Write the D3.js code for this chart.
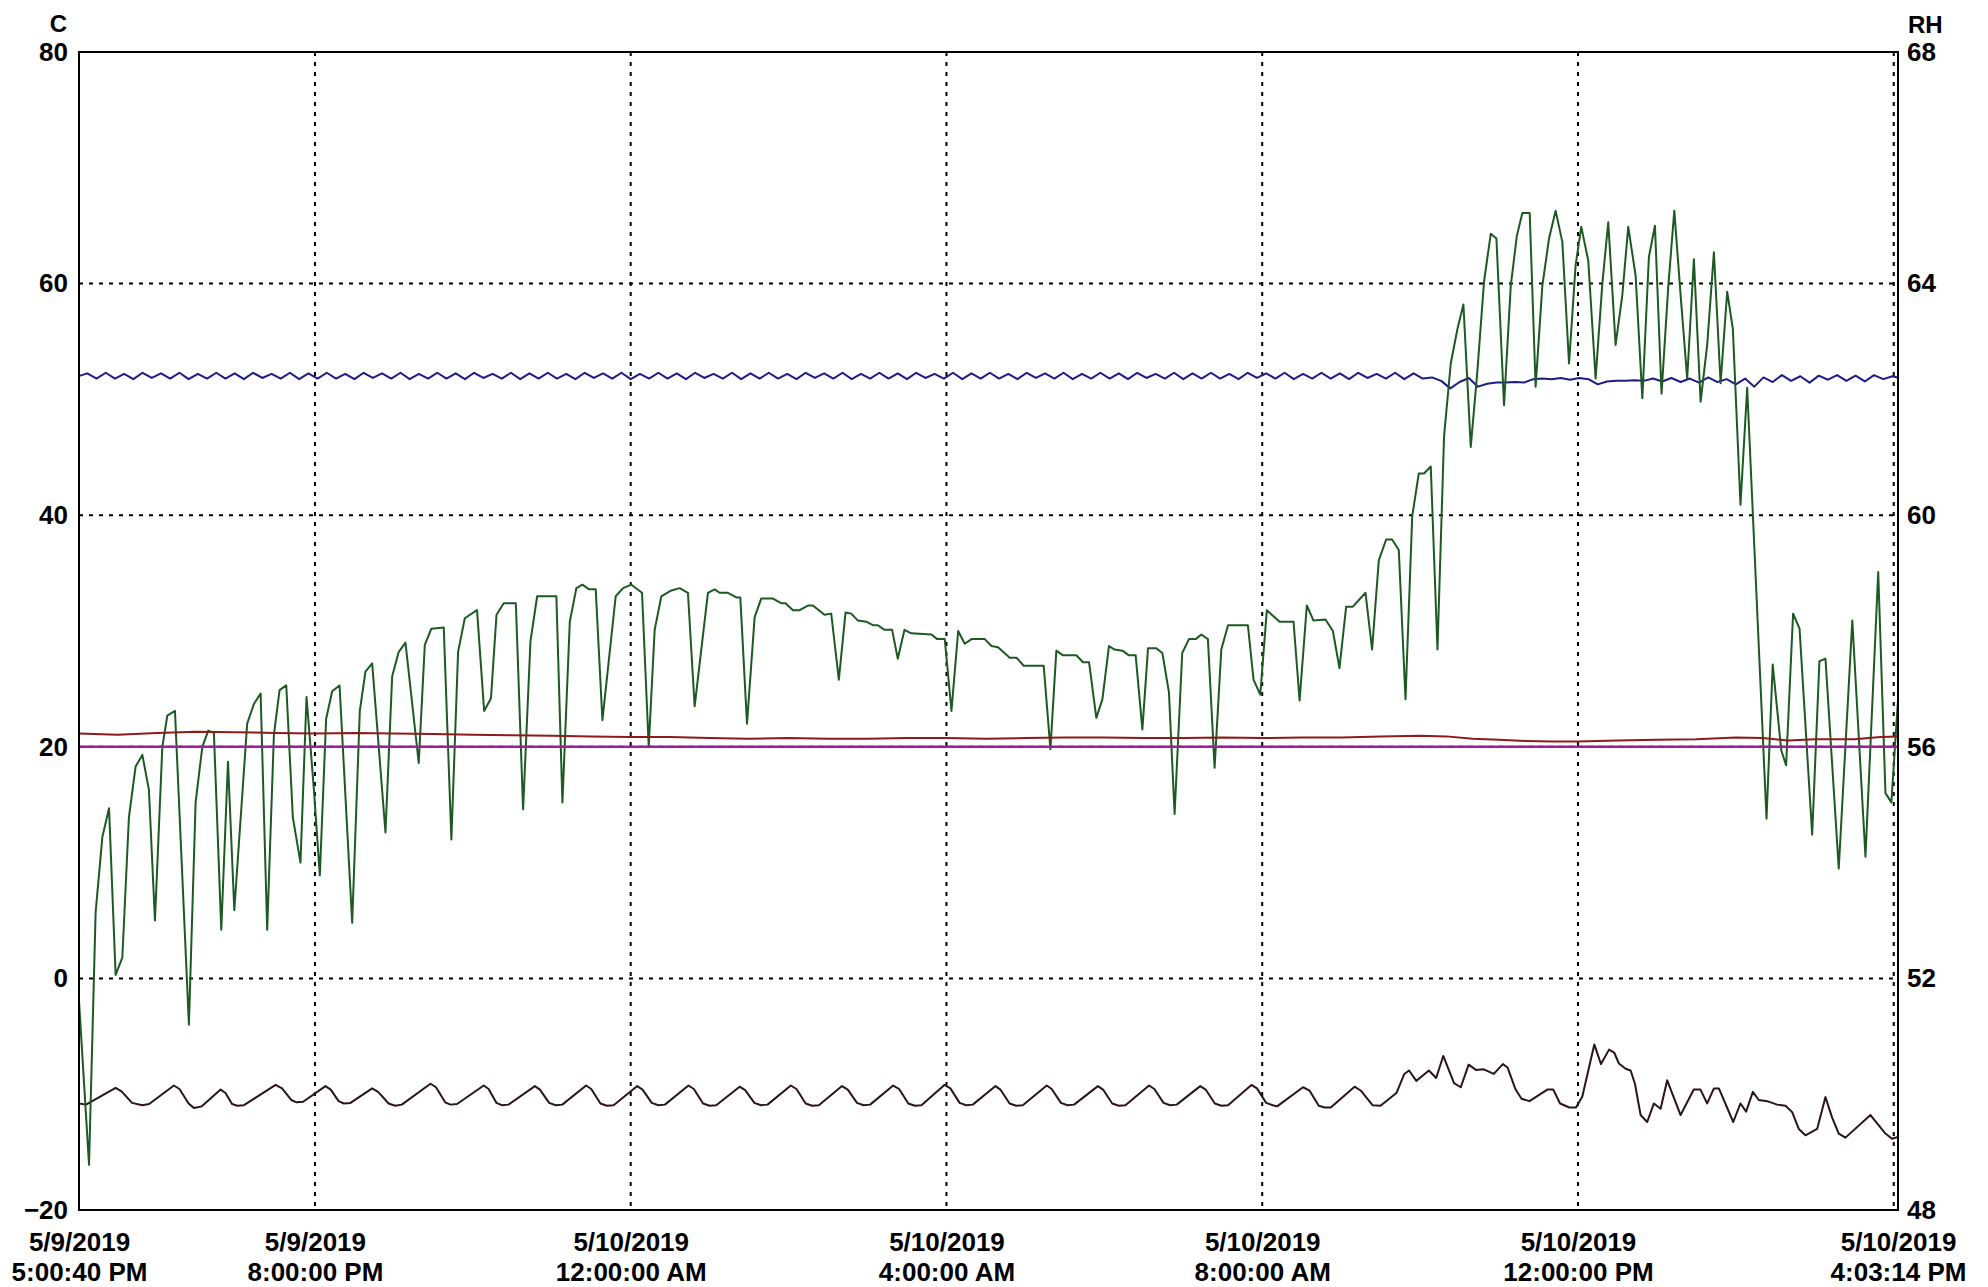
<!DOCTYPE html>
<html><head><meta charset="utf-8">
<script src="https://cdn.jsdelivr.net/npm/d3@7"></script>
<style>html,body{margin:0;background:#fff}svg{display:block}</style>
</head><body><svg id="chart" width="1988" height="1287"></svg>
<script>
// ---------- DATA ----------
const BASE_TIME = new Date(2019, 4, 9, 17, 0, 0);   // minutes below are counted from here
const START_TIME = new Date(2019, 4, 9, 17, 0, 40);
const END_TIME = new Date(2019, 4, 10, 16, 3, 14);

const leftTicks = [80, 60, 40, 20, 0, -20];
const rightTicks = [68, 64, 60, 56, 52, 48];
const hGridValues = [60, 40, 20, 0];
const xLabelTimes = [START_TIME, new Date(2019,4,9,20,0,0), new Date(2019,4,10,0,0,0),
  new Date(2019,4,10,4,0,0), new Date(2019,4,10,8,0,0), new Date(2019,4,10,12,0,0), END_TIME];
const vGridTimes = [new Date(2019,4,9,20,0,0), new Date(2019,4,10,0,0,0), new Date(2019,4,10,4,0,0),
  new Date(2019,4,10,8,0,0), new Date(2019,4,10,12,0,0), new Date(2019,4,10,16,0,0)];

// green temperature trace, [minute, C]
const greenTemp = [
[0.7,-2],[8.3,-16.1],[13.3,5.7],[18.4,12.2],[23.5,14.7],[28.5,0.3],[33.6,1.8],[38.6,13.9],[43.7,18.3],[48.8,19.3],
[53.8,16.3],[58.4,5.0],[64,20],[67.8,22.7],[73.6,23.1],[84.2,-4.0],[89.3,15.2],[94.4,20],[98.9,21.4],[103.2,21.2],
[108.8,4.2],[113.9,18.7],[118.7,5.9],[128.5,22.0],[133.6,23.7],[138.7,24.6],[143.7,4.2],[148.8,21.0],[153.1,24.9],[158.2,25.3],
[163.2,13.9],[169,10.0],[173.6,24.3],[179.2,16.3],[183.7,8.9],[188.5,22.4],[193.1,24.8],[198.7,25.3],[208.3,4.8],[214.1,23.1],
[218.4,26.5],[223.5,27.2],[233.6,12.6],[238.7,26.1],[243.7,28.2],[248.8,29.0],[258.9,18.6],[263.5,28.8],[268.5,30.2],[277.9,30.3],
[283.7,12.0],[288.8,28.2],[293.9,31.1],[303.2,31.8],[308.6,23.1],[313.8,24.2],[318.0,31.4],[323.5,32.4],[332.7,32.4],[338.2,14.6],
[343.8,29.1],[348.9,33.0],[363.5,33.0],[368.1,15.2],[373.7,30.8],[378.7,33.7],[383.3,34.0],[388.4,33.6],[393.4,33.6],[398.5,22.3],
[408.6,33.0],[414.2,33.7],[420.5,34.0],[428.6,33.3],[433.7,20.0],[438.2,30.1],[443.3,33.0],[450.9,33.5],[457.2,33.7],[463.5,33.3],
[468.6,23.5],[478.7,33.3],[483.8,33.6],[487.6,33.3],[493.9,33.3],[500.3,32.9],[503.3,32.9],[508.4,22.0],[514.2,31.2],[519.2,32.8],
[528.1,32.8],[534.4,32.4],[537.7,32.4],[543.3,31.8],[548.4,31.8],[554.7,32.2],[558.5,32.2],[567.3,31.4],[572.4,31.5],[578.2,25.8],
[583.3,31.6],[587.6,31.5],[592.7,30.9],[599.0,30.8],[604.1,30.5],[607.8,30.5],[612.9,30.1],[618.7,30.1],[623.0,27.6],[628.1,30.1],
[633.2,29.8],[648.6,29.7],[652.9,29.3],[658.7,29.3],[663.8,23.1],[668.9,30.0],[673.9,28.9],[679.0,29.3],[689.1,29.3],[694.2,28.7],
[699.2,28.6],[708.1,27.7],[713.2,27.7],[718.7,27.0],[733.9,27.0],[739.0,19.8],[743.5,28.3],[748.6,27.9],[758.7,27.9],[763.8,27.3],
[768.4,27.3],[773.9,22.5],[778.5,24.1],[783.5,28.7],[787.8,28.4],[793.7,28.3],[798.7,27.9],[803.8,27.9],[808.9,21.5],[813.2,28.5],
[819.5,28.5],[824.1,28.1],[829.1,24.7],[833.4,14.2],[839.2,28.1],[844.3,29.3],[849.4,29.3],[853.7,29.7],[858.7,29.3],[863.8,18.2],
[868.9,28.4],[874.0,30.5],[889.1,30.5],[893.4,25.8],[898.5,24.5],[903.5,31.8],[913.2,30.8],[923.8,30.8],[928.4,24.0],[933.9,32.2],
[939.0,30.9],[948.1,31.0],[953.7,30.0],[958.7,26.8],[963.8,32.1],[968.9,32.1],[978.5,33.3],[983.5,28.4],[988.6,36.1],[994.2,37.9],
[998.7,37.9],[1003.8,37.0],[1008.9,24.1],[1014.0,39.9],[1019.0,43.6],[1023.0,43.6],[1028.1,44.2],[1033.2,28.4],[1038.2,46.8],[1043.3,53.1],
[1048.4,56.1],[1052.9,58.2],[1058.5,45.9],[1063.5,52.4],[1068.6,60.2],[1073.7,64.3],[1078.0,63.9],[1083.8,49.5],[1088.9,59.8],[1093.5,64.1],
[1097.7,66.1],[1103.3,66.1],[1107.8,51.1],[1112.9,59.8],[1118.0,63.9],[1123.0,66.3],[1128.1,63.6],[1133.2,53.1],[1138.2,61.6],[1142.5,64.9],
[1147.8,62.0],[1153.4,51.8],[1158.5,60.0],[1163.0,65.3],[1168.6,54.7],[1173.7,59.0],[1178.2,64.9],[1183.8,60.7],[1188.9,50.1],[1193.9,62.3],
[1198.5,65.0],[1203.5,50.5],[1208.6,59.7],[1213.2,66.3],[1218.0,59.0],[1223.0,51.8],[1228.1,62.1],[1233.2,49.8],[1238.2,54.7],[1243.3,62.7],
[1248.4,51.4],[1253.4,59.3],[1257.7,56.1],[1263.5,40.9],[1268.6,51.0],[1283.3,13.8],[1288.0,27.1],[1294.5,19.7],[1298.2,18.4],[1303.5,31.5],
[1308.4,30.2],[1318.0,12.4],[1323.5,27.4],[1328.1,27.6],[1338.2,9.5],[1348.5,30.9],[1358.5,10.5],[1368.2,35.1],[1373.7,16.0],[1378.2,15.2],
[1383.2,24.0]
];

// blue trace (C), one value every 7 minutes
const blueStepMin = 7;
const blueTemp = [
52.0,52.25,51.8,52.3,51.8,52.2,51.75,52.3,51.85,52.25,
51.8,52.3,51.75,52.2,51.8,52.3,51.8,52.25,51.75,52.3,
51.85,52.2,51.8,52.3,51.75,52.25,51.8,52.3,51.8,52.2,
51.75,52.3,51.85,52.25,51.8,52.3,51.75,52.2,51.8,52.3,
51.8,52.25,51.75,52.3,51.85,52.2,51.8,52.3,51.75,52.25,
51.8,52.3,51.8,52.2,51.75,52.3,51.85,52.25,51.8,52.3,
51.75,52.2,51.8,52.3,51.8,52.25,51.75,52.3,51.85,52.2,
51.8,52.3,51.75,52.25,51.8,52.3,51.8,52.2,51.75,52.3,
51.85,52.25,51.8,52.3,51.75,52.2,51.8,52.3,51.8,52.25,
51.75,52.3,51.85,52.2,51.8,52.3,51.75,52.25,51.8,52.3,
51.8,52.2,51.75,52.3,51.85,52.25,51.8,52.3,51.75,52.2,
51.8,52.3,51.8,52.25,51.75,52.3,51.85,52.2,51.8,52.3,
51.75,52.25,51.8,52.3,51.8,52.2,51.75,52.3,51.85,52.25,
51.8,52.3,51.75,52.2,51.8,52.3,51.8,52.25,51.75,52.3,
51.85,52.2,51.8,52.3,51.75,52.25,51.8,
51.9,51.6,50.95,51.5,51.85,51.1,51.35,51.45,51.45,51.5,
51.45,51.75,51.8,51.75,51.85,51.7,51.85,51.75,51.3,51.55,
51.6,51.6,51.65,51.6,51.8,51.55,51.85,51.5,51.8,51.45,
51.9,51.5,51.75,51.3,51.8,51.1,51.9,
51.5,52.1,51.6,52.0,51.45,52.05,51.7,52.1,51.6,52.05,51.55,52.1,51.75,52.0,51.8
];

// maroon trace (C), [minute, C]
const maroonTemp = [
[0,21.15],[30,21.05],[60,21.2],[90,21.3],[120,21.25],[150,21.2],[180,21.15],[210,21.2],[240,21.15],[270,21.1],
[300,21.05],[330,21.0],[360,20.95],[390,20.9],[420,20.85],[450,20.85],[480,20.75],[510,20.7],[540,20.75],[570,20.7],
[600,20.7],[630,20.75],[660,20.75],[690,20.7],[720,20.75],[750,20.8],[780,20.8],[810,20.75],[840,20.75],[870,20.8],
[900,20.75],[930,20.8],[960,20.8],[990,20.9],[1020,20.95],[1040,20.9],[1060,20.7],[1080,20.6],[1100,20.5],[1120,20.45],
[1140,20.45],[1170,20.55],[1200,20.6],[1230,20.65],[1260,20.8],[1280,20.75],[1300,20.55],[1320,20.65],[1350,20.65],[1370,20.85],
[1383.2,20.9]
];

// magenta set line (C)
const magentaTemp = [[0,20],[1383.2,20]];

// black RH trace (%RH), [minute, RH]
const blackRH = [
[0.7,49.84],[6,49.82],[28.5,50.11],[33,50.05],[41,49.85],[48.8,49.81],[54,49.83],[72.8,50.15],[77,50.09],[84,49.84],
[88,49.76],[94,49.79],[108.3,50.08],[112,50.02],[117,49.83],[121,49.8],[126,49.81],[150.1,50.16],[155,50.1],[162,49.9],
[166,49.86],[171,49.87],[188,50.14],[192,50.08],[198,49.88],[202,49.84],[207,49.85],[223.5,50.1],[228,50.04],[236,49.84],
[241,49.8],[246,49.82],[267.8,50.18],[272,50.12],[279,49.86],[283,49.82],[288,49.83],[308.3,50.15],[312,50.09],[318,49.85],
[322,49.81],[327,49.82],[347.2,50.14],[351,50.08],[358,49.85],[363,49.81],[368,49.82],[386.1,50.15],[390,50.09],[397,49.84],
[402,49.8],[407,49.81],[425,50.14],[429,50.08],[436,49.85],[441,49.81],[446,49.82],[463.9,50.15],[468,50.09],[475,49.84],
[480,49.8],[485,49.81],[502.8,50.13],[507,50.07],[514,49.85],[519,49.81],[524,49.82],[541.7,50.15],[546,50.09],[553,49.84],
[558,49.8],[563,49.81],[580.6,50.14],[585,50.08],[592,49.85],[597,49.81],[602,49.82],[619.5,50.15],[624,50.09],[631,49.84],
[636,49.8],[641,49.81],[658.4,50.16],[663,50.1],[670,49.85],[675,49.81],[680,49.82],[697.3,50.14],[701,50.08],[708,49.84],
[713,49.8],[718,49.81],[736.2,50.15],[740,50.09],[747,49.85],[752,49.81],[757,49.82],[775.1,50.14],[779,50.08],[786,49.84],
[791,49.8],[796,49.81],[814,50.15],[818,50.09],[825,49.85],[830,49.81],[835,49.82],[852.9,50.14],[857,50.08],[864,49.84],
[869,49.8],[874,49.81],[891.8,50.16],[896,50.1],[903,49.85],[908,49.81],[911.3,49.79],[931,50.12],[936,50.06],[943,49.8],
[947.6,49.77],[952.1,49.77],[970.2,50.13],[975,50.06],[983.8,49.81],[989.9,49.8],[1002,50.02],[1008,50.35],[1011.6,50.41],[1017.1,50.23],
[1026.7,50.41],[1032.2,50.28],[1037.6,50.66],[1045.8,50.19],[1050.9,50.12],[1056.9,50.51],[1062.4,50.42],[1068.4,50.43],[1076,50.35],[1082.9,50.52],
[1086.5,50.46],[1092.6,50.08],[1097.1,49.92],[1103.1,49.88],[1116.7,50.08],[1121.2,50.08],[1126.4,49.84],[1133.4,49.77],[1138.5,49.77],[1143.3,49.96],
[1152.4,50.86],[1157.5,50.52],[1163.6,50.77],[1167.5,50.72],[1171.1,50.53],[1176.2,50.44],[1180,50.41],[1183.3,50.18],[1187.6,49.64],[1192.6,49.52],
[1197.7,49.84],[1202.8,49.75],[1207.8,50.24],[1218,49.64],[1228,50.08],[1233.1,50.08],[1238.2,49.84],[1243.3,50.1],[1247.1,50.1],[1258,49.52],
[1263.5,49.84],[1267.8,49.7],[1272.9,50.04],[1277.4,49.9],[1283.8,49.88],[1291.4,49.82],[1297.7,49.8],[1302.8,49.69],[1307.8,49.4],[1312.9,49.29],
[1321.8,49.4],[1328.1,49.95],[1333.1,49.6],[1338.2,49.32],[1343.3,49.25],[1362.3,49.64],[1373.7,49.32],[1378.7,49.23],[1383.2,49.26]
];

// ---------- CHART ----------
const L = 79, R = 1898, T = 52, B = 1210;
const FONT = "'Liberation Sans', Arial, Helvetica, sans-serif";
const svg = d3.select("#chart");
const toDate = m => new Date(BASE_TIME.getTime() + m * 60000);

const x = d3.scaleTime().domain([START_TIME, END_TIME]).range([L, R]);
const yC = d3.scaleLinear().domain([-20, 80]).range([B, T]);
const yRH = d3.scaleLinear().domain([48, 68]).range([B, T]);

svg.append("defs").append("clipPath").attr("id", "plot")
  .append("rect").attr("x", L).attr("y", T).attr("width", R - L).attr("height", B - T);

// grid
const grid = svg.append("g").attr("stroke", "#000").attr("stroke-width", 2).attr("stroke-dasharray", "4,6");
grid.selectAll("line.h").data(hGridValues).join("line").attr("class", "h")
  .attr("x1", L).attr("x2", R).attr("y1", d => yC(d)).attr("y2", d => yC(d));
grid.selectAll("line.v").data(vGridTimes).join("line").attr("class", "v")
  .attr("x1", d => x(d)).attr("x2", d => x(d)).attr("y1", T).attr("y2", B);

// lines
const plot = svg.append("g").attr("clip-path", "url(#plot)").attr("fill", "none")
  .attr("stroke-linejoin", "round").attr("stroke-linecap", "round");
const lineC = d3.line().x(d => x(toDate(d[0]))).y(d => yC(d[1]));
const lineRH = d3.line().x(d => x(toDate(d[0]))).y(d => yRH(d[1]));

plot.append("path").datum(blackRH).attr("d", lineRH).attr("stroke", "#2b1515").attr("stroke-width", 2);
plot.append("path").datum(blueTemp.map((v, i) => [i * blueStepMin, v])).attr("d", lineC)
  .attr("stroke", "#1c1c8a").attr("stroke-width", 2);
plot.append("path").datum(greenTemp).attr("d", lineC).attr("stroke", "#1d5a22").attr("stroke-width", 2);
plot.append("path").datum(maroonTemp).attr("d", lineC).attr("stroke", "#8e1a1a").attr("stroke-width", 2);
plot.append("path").datum(magentaTemp).attr("d", lineC).attr("stroke", "#9c1f9c").attr("stroke-width", 2.5);

// frame
svg.append("rect").attr("x", L).attr("y", T).attr("width", R - L).attr("height", B - T)
  .attr("fill", "none").attr("stroke", "#000").attr("stroke-width", 2);

// axes
function styleAxis(g) {
  g.select(".domain").remove();
  g.selectAll("text").attr("font-family", FONT).attr("font-weight", "bold")
    .attr("font-size", 26).attr("fill", "#000");
}
svg.append("g").attr("transform", `translate(${L},0)`)
  .call(d3.axisLeft(yC).tickValues(leftTicks).tickSize(0).tickPadding(11).tickFormat(d3.format("d")))
  .call(styleAxis);
svg.append("g").attr("transform", `translate(${R},0)`)
  .call(d3.axisRight(yRH).tickValues(rightTicks).tickSize(0).tickPadding(9).tickFormat(d3.format("d")))
  .call(styleAxis);

const fmtDate = d3.timeFormat("%-m/%-d/%Y");
const fmtTime = d3.timeFormat("%-I:%M:%S %p");
const xg = svg.append("g").attr("transform", `translate(0,${B})`)
  .call(d3.axisBottom(x).tickValues(xLabelTimes).tickSize(0).tickFormat(() => ""))
  .call(styleAxis);
xg.selectAll(".tick text").each(function(d) {
  const t = d3.select(this).attr("y", null).attr("dy", null);
  t.append("tspan").attr("x", 0).attr("y", 41).text(fmtDate(d));
  t.append("tspan").attr("x", 0).attr("y", 71).text(fmtTime(d));
});

// axis titles
svg.append("text").attr("x", 67).attr("y", 32).attr("text-anchor", "end").text("C")
  .attr("font-family", FONT).attr("font-weight", "bold").attr("font-size", 24);
svg.append("text").attr("x", 1908).attr("y", 33).attr("text-anchor", "start").text("RH")
  .attr("font-family", FONT).attr("font-weight", "bold").attr("font-size", 24);
</script>
</body></html>
